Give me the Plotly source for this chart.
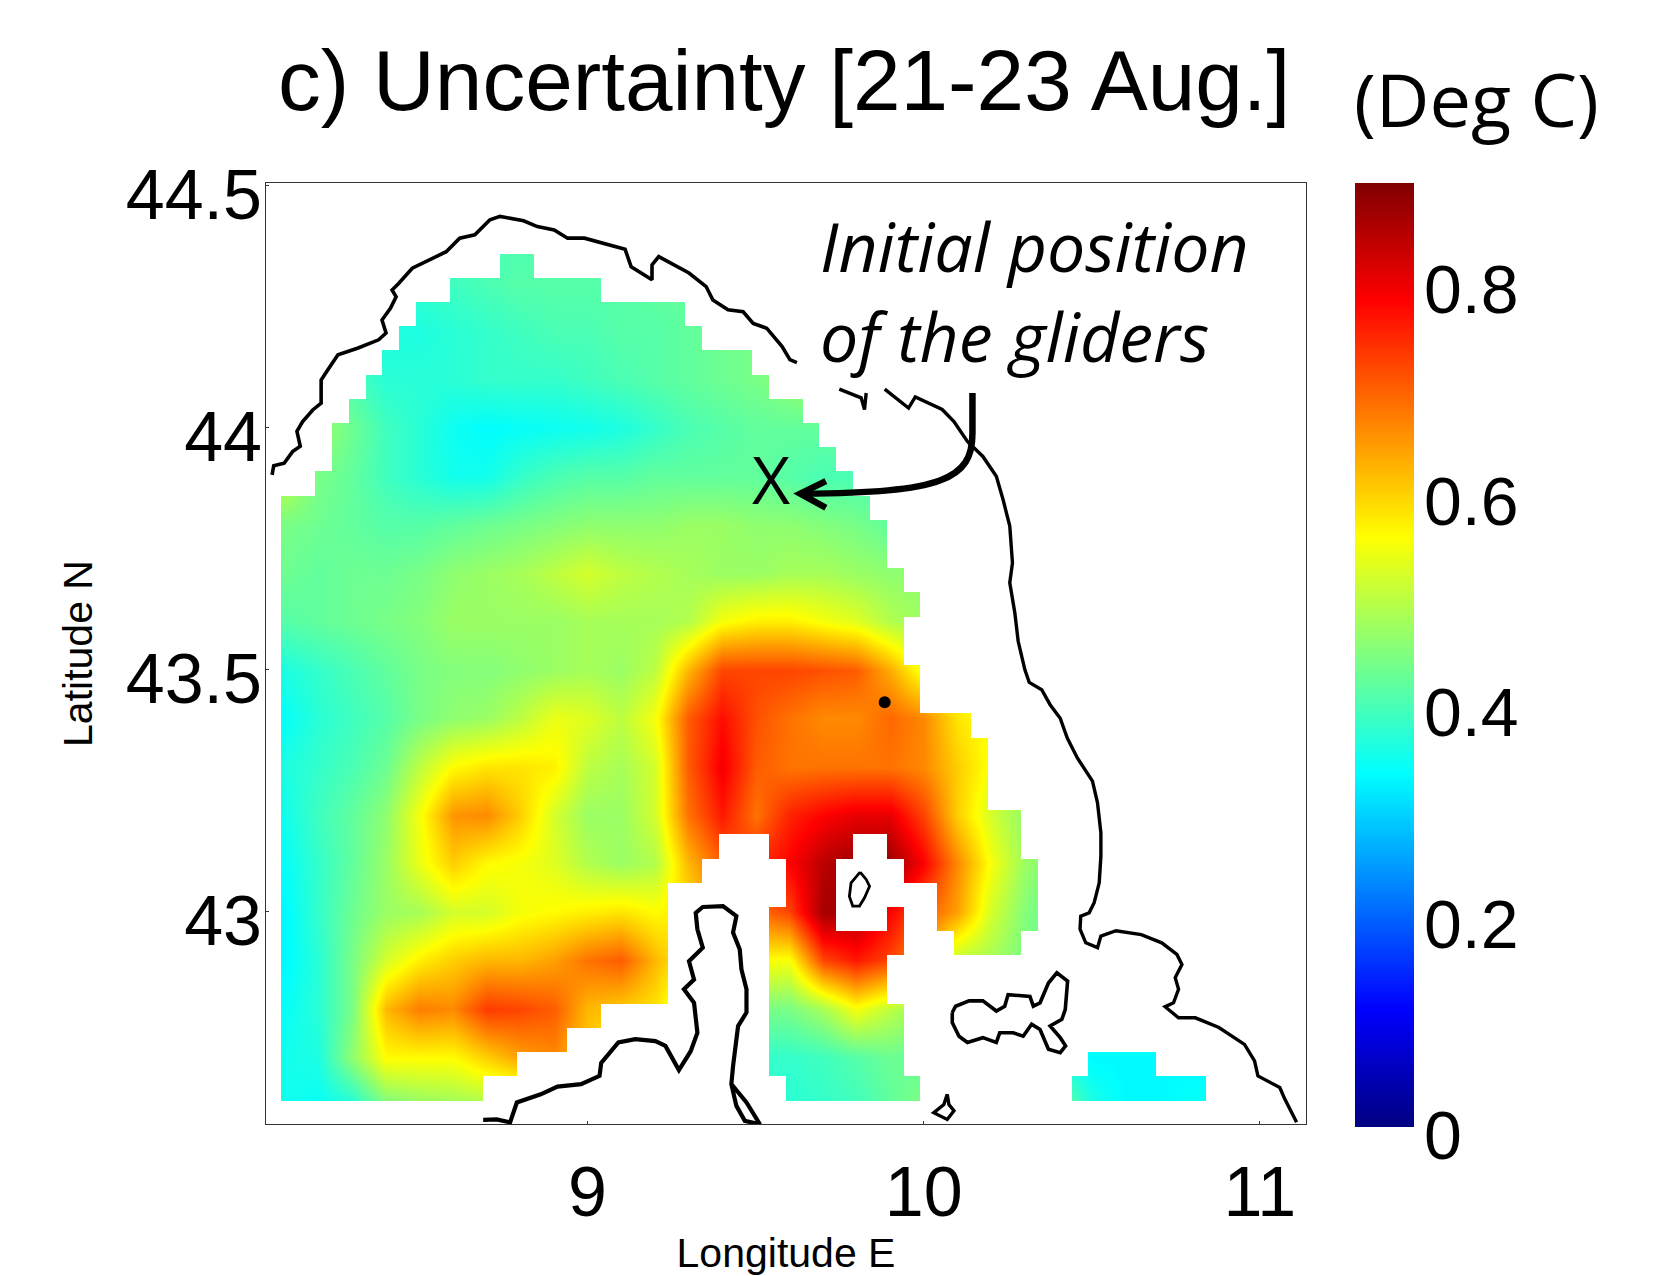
import plotly.graph_objects as go

# ---- uncertainty field (deg C), on 0.1 degree nodes
lons = [8.1, 8.2, 8.3, 8.4, 8.5, 8.6, 8.7, 8.8, 8.9, 9.0, 9.1, 9.2, 9.3, 9.4,
        9.5, 9.6, 9.7, 9.8, 9.9, 10.0, 10.1, 10.2, 10.3, 10.4, 10.5, 10.6, 10.7, 10.8]
lats = [44.4, 44.3, 44.2, 44.1, 44.0, 43.9, 43.8, 43.7, 43.6, 43.5,
        43.4, 43.3, 43.2, 43.1, 43.0, 42.9, 42.8, 42.7, 42.6]
uncert = [
 [.40,.40,.40,.40,.40,.40,.40,.40,.41,.41,.41,.41,.42,.42,.42,.42,.42,.42,.42,.42,.42,.42,.42,.42,.42,.42,.42,.42],
 [.38,.38,.38,.38,.38,.39,.40,.41,.41,.41,.41,.42,.42,.42,.43,.43,.43,.43,.43,.43,.43,.43,.43,.43,.43,.43,.43,.43],
 [.38,.38,.37,.36,.36,.37,.38,.39,.40,.40,.41,.41,.42,.43,.44,.45,.45,.45,.45,.45,.45,.45,.45,.45,.45,.45,.45,.45],
 [.46,.44,.40,.37,.37,.37,.38,.38,.38,.39,.40,.41,.42,.43,.44,.46,.48,.48,.48,.48,.48,.48,.48,.48,.48,.48,.48,.48],
 [.47,.47,.43,.39,.37,.345,.335,.34,.345,.35,.36,.38,.40,.41,.42,.42,.42,.42,.42,.42,.42,.42,.42,.42,.42,.42,.42,.42],
 [.50,.44,.42,.39,.37,.35,.35,.38,.40,.41,.41,.42,.42,.42,.42,.41,.40,.40,.40,.40,.40,.40,.40,.40,.40,.40,.40,.40],
 [.44,.43,.42,.41,.41,.42,.43,.44,.45,.46,.46,.46,.47,.47,.46,.46,.45,.44,.42,.42,.42,.42,.42,.42,.42,.42,.42,.42],
 [.43,.42,.43,.43,.44,.46,.47,.48,.50,.52,.50,.49,.48,.47,.47,.48,.48,.47,.46,.46,.46,.46,.46,.46,.46,.46,.46,.46],
 [.41,.42,.43,.44,.45,.47,.47,.47,.47,.48,.48,.48,.49,.55,.57,.57,.55,.53,.49,.47,.47,.47,.47,.47,.47,.47,.47,.47],
 [.36,.38,.40,.42,.44,.45,.45,.46,.47,.48,.47,.50,.62,.72,.72,.72,.71,.70,.63,.54,.52,.52,.52,.52,.52,.52,.52,.52],
 [.34,.37,.39,.41,.44,.46,.47,.50,.54,.53,.50,.55,.70,.77,.71,.68,.66,.66,.69,.66,.58,.55,.55,.55,.55,.55,.55,.55],
 [.36,.38,.40,.43,.50,.56,.58,.58,.57,.50,.48,.52,.70,.79,.70,.68,.68,.68,.68,.66,.60,.55,.52,.52,.52,.52,.52,.52],
 [.35,.39,.42,.46,.55,.65,.66,.60,.52,.47,.47,.52,.68,.76,.68,.75,.78,.80,.80,.72,.60,.52,.46,.46,.46,.46,.46,.46],
 [.34,.38,.42,.47,.54,.60,.56,.55,.53,.49,.47,.49,.62,.70,.74,.78,.84,.87,.87,.78,.66,.55,.47,.44,.44,.44,.44,.44],
 [.33,.38,.43,.47,.48,.52,.52,.55,.56,.57,.58,.56,.58,.64,.68,.72,.86,.85,.78,.70,.64,.52,.45,.42,.42,.42,.42,.42],
 [.33,.37,.44,.52,.57,.60,.62,.62,.64,.68,.70,.62,.56,.56,.56,.55,.72,.76,.72,.64,.50,.48,.44,.42,.42,.42,.42,.42],
 [.34,.37,.44,.62,.67,.66,.73,.72,.70,.62,.60,.58,.50,.46,.44,.44,.48,.55,.50,.46,.44,.42,.40,.40,.40,.40,.40,.40],
 [.35,.36,.46,.56,.56,.56,.60,.64,.66,.60,.54,.50,.45,.41,.38,.38,.39,.41,.43,.42,.40,.38,.36,.35,.33,.33,.33,.33],
 [.35,.34,.36,.44,.46,.47,.48,.48,.48,.48,.46,.44,.42,.40,.38,.37,.38,.39,.42,.45,.45,.44,.42,.44,.36,.33,.33,.34],
]

# ---- model cells that hold a value: 0.05 degree cells, (first, last) column per row, north to south
cell_lon0 = 8.09
cell_lat0 = 44.36
cell_step = 0.05
n_cols = 55
wet_runs = [
 [(13,14)], [(10,18)], [(8,23)], [(7,24)], [(6,27)], [(5,28)], [(4,30)], [(3,31)], [(3,32)],
 [(2,33)], [(0,34)], [(0,35)], [(0,35)], [(0,36)], [(0,37)], [(0,36)], [(0,36)], [(0,37)],
 [(0,37)], [(0,40)], [(0,41)], [(0,41)], [(0,41)], [(0,43)],
 [(0,25),(29,33),(36,43)],
 [(0,24),(30,32),(37,44)],
 [(0,22),(30,32),(39,44)],
 [(0,22),(29,32),(36,36),(39,44)],
 [(0,22),(29,36),(40,43)],
 [(0,22),(29,35)],
 [(0,22),(29,35)],
 [(0,18),(29,36)],
 [(0,16),(29,36)],
 [(0,13),(29,36),(48,51)],
 [(0,11),(30,37),(47,54)],
]

# ---- coastlines (lon, lat)
ligurian_lon = [8.062,8.067,8.098,8.123,8.146,8.136,8.153,8.183,8.208,8.208,8.228,8.258,8.318,8.379,8.401,8.389,8.414,8.431,8.419,8.439,8.479,8.529,8.580,8.620,8.665,8.710,8.740,8.810,8.851,8.901,8.941,8.991,9.031,9.112,9.130,9.192,9.192,9.212,9.302,9.353,9.373,9.418,9.463,9.493,9.533,9.579,9.602,9.623]
ligurian_lat = [43.903,43.922,43.927,43.951,43.962,43.993,44.013,44.037,44.051,44.099,44.120,44.151,44.165,44.182,44.196,44.223,44.247,44.271,44.285,44.299,44.330,44.347,44.364,44.392,44.399,44.430,44.437,44.428,44.416,44.409,44.392,44.392,44.385,44.369,44.333,44.306,44.337,44.354,44.320,44.292,44.264,44.244,44.240,44.216,44.206,44.168,44.141,44.135]
spit_lon = [9.749,9.814,9.824,9.829]
spit_lat = [44.080,44.062,44.038,44.072]
tuscany_lon = [9.884,9.955,9.975,10.055,10.090,10.130,10.176,10.216,10.236,10.256,10.264,10.256,10.271,10.281,10.301,10.314,10.351,10.376,10.406,10.427,10.457,10.502,10.517,10.527,10.527,10.522,10.507,10.492,10.467,10.465,10.482,10.517,10.527,10.572,10.647,10.708,10.753,10.768,10.748,10.758,10.743,10.718,10.758,10.808,10.878,10.954,10.984,10.994,11.059,11.074,11.109]
tuscany_lat = [44.080,44.041,44.064,44.038,44.013,43.972,43.941,43.900,43.852,43.797,43.721,43.680,43.618,43.559,43.500,43.474,43.459,43.428,43.400,43.359,43.318,43.270,43.225,43.163,43.115,43.060,43.019,42.998,42.991,42.964,42.936,42.926,42.950,42.961,42.953,42.936,42.912,42.891,42.864,42.840,42.812,42.804,42.781,42.781,42.761,42.726,42.692,42.661,42.637,42.613,42.565]
corsica_lon = [8.690,8.730,8.770,8.790,8.861,8.911,8.981,9.036,9.041,9.092,9.142,9.202,9.232,9.272,9.307,9.327,9.317,9.287,9.317,9.302,9.343,9.327,9.322,9.343,9.403,9.443,9.433,9.453,9.458,9.473,9.473,9.448,9.433,9.428,9.473,9.513,9.468,9.443,9.428]
corsica_lat = [42.570,42.571,42.565,42.606,42.623,42.639,42.644,42.661,42.688,42.730,42.737,42.733,42.723,42.673,42.712,42.750,42.812,42.840,42.860,42.898,42.926,42.964,42.998,43.010,43.012,42.991,42.957,42.922,42.881,42.840,42.792,42.764,42.681,42.644,42.606,42.561,42.568,42.599,42.644]
capraia_lon = [9.811,9.829,9.839,9.824,9.809,9.789,9.779,9.784,9.811]
capraia_lat = [43.082,43.067,43.053,43.029,43.012,43.012,43.032,43.060,43.082]
elba_lon = [10.085,10.095,10.135,10.176,10.216,10.241,10.251,10.316,10.326,10.346,10.371,10.396,10.428,10.421,10.411,10.376,10.406,10.422,10.406,10.371,10.346,10.321,10.296,10.266,10.226,10.216,10.176,10.130,10.105,10.085,10.085]
elba_lat = [42.792,42.805,42.816,42.816,42.795,42.805,42.829,42.825,42.805,42.812,42.853,42.874,42.857,42.798,42.778,42.764,42.740,42.723,42.709,42.716,42.757,42.768,42.743,42.750,42.750,42.730,42.740,42.730,42.743,42.771,42.792]
pianosa_lon = [10.070,10.075,10.090,10.070,10.030,10.060,10.070]
pianosa_lat = [42.623,42.602,42.589,42.571,42.585,42.602,42.623]
gorgona_lon = [9.884]
gorgona_lat = [43.433]
glider_lon = [9.546]
glider_lat = [43.877]

lon_ticks = [9, 10, 11]
lat_ticks = [43, 43.5, 44, 44.5]
lat_tick_text = ["43", "43.5", "44", "44.5"]
cbar_ticks = [0, 0.2, 0.4, 0.6, 0.8]
cbar_tick_text = ["0", "0.2", "0.4", "0.6", "0.8"]
value_max = 0.892

X0, X1 = 8.044, 11.137
Y0, Y1 = 42.5616, 44.506

jet = [[0, "rgb(0,0,128)"], [0.125, "rgb(0,0,255)"], [0.375, "rgb(0,255,255)"],
       [0.625, "rgb(255,255,0)"], [0.875, "rgb(255,0,0)"], [1, "rgb(128,0,0)"]]
SANS = "Liberation Sans"
HUMAN = "Open Sans"

fig = go.Figure()

PLOT_L, PLOT_R, PLOT_T, PLOT_B = 265.5, 1306, 183, 1124.5
fig.add_trace(go.Heatmap(
    x=lons, y=lats, z=uncert, zsmooth="best", colorscale=jet, zmin=0, zmax=value_max,
    hoverinfo="skip",
    colorbar=dict(
        x=(1355 - PLOT_L) / (PLOT_R - PLOT_L), xanchor="left", xpad=0,
        y=1, yanchor="top", ypad=0, lenmode="pixels", len=944,
        thickness=59, thicknessmode="pixels", outlinewidth=0,
        tickvals=cbar_ticks, ticks="", showticklabels=False,
    ),
))

# white land mask: every cell without a value, plus the margin round the grid
n_rows = len(wet_runs)
mask_x = [X0] + [cell_lon0 + i * cell_step for i in range(n_cols + 1)] + [X1]
mask_y = [Y1] + [cell_lat0 - i * cell_step for i in range(n_rows + 1)] + [Y0]
mask_z = [[1] * (n_cols + 2)]
for runs in wet_runs:
    row = [1] * (n_cols + 2)
    for a, b in runs:
        for c in range(a, b + 1):
            row[c + 1] = None
    mask_z.append(row)
mask_z.append([1] * (n_cols + 2))
fig.add_trace(go.Heatmap(
    x=mask_x, y=mask_y, z=mask_z, zmin=0, zmax=1, showscale=False, hoverinfo="skip",
    colorscale=[[0, "white"], [1, "white"]],
))

for lo, la, w in [(ligurian_lon, ligurian_lat, 3.6), (spit_lon, spit_lat, 3.4),
                  (tuscany_lon, tuscany_lat, 3.4), (corsica_lon, corsica_lat, 4.2),
                  (capraia_lon, capraia_lat, 2.8), (elba_lon, elba_lat, 3.6),
                  (pianosa_lon, pianosa_lat, 3.4)]:
    fig.add_trace(go.Scatter(x=lo, y=la, mode="lines", line=dict(color="black", width=w),
                             hoverinfo="skip", showlegend=False))
fig.add_trace(go.Scatter(x=gorgona_lon, y=gorgona_lat, mode="markers",
                         marker=dict(color="black", size=12), hoverinfo="skip", showlegend=False))
fig.add_trace(go.Scatter(x=glider_lon, y=glider_lat, mode="text", text=["X"],
                         textposition="middle center",
                         textfont=dict(family=HUMAN, size=66, color="black"),
                         hoverinfo="skip", showlegend=False))

annotations = [
    dict(x=9.685, y=44.376, xref="x", yref="y", text="<i>Initial position</i>", showarrow=False,
         xanchor="left", yanchor="middle", font=dict(family=HUMAN, size=68, color="black")),
    dict(x=9.685, y=44.191, xref="x", yref="y", text="<i>of the gliders</i>", showarrow=False,
         xanchor="left", yanchor="middle", font=dict(family=HUMAN, size=68, color="black")),
    dict(x=(1477 - PLOT_L) / (PLOT_R - PLOT_L), y=1 + (183 - 98) / (PLOT_B - PLOT_T),
         xref="paper", yref="paper", text="(Deg C)", showarrow=False,
         xanchor="center", yanchor="middle", font=dict(family=HUMAN, size=74, color="black")),
]
for v, t in zip(cbar_ticks, cbar_tick_text):
    y_px = 1127 - v / value_max * 944 + 9
    annotations.append(dict(
        x=(1422 - PLOT_L) / (PLOT_R - PLOT_L), y=1 - (y_px - PLOT_T) / (PLOT_B - PLOT_T),
        xref="paper", yref="paper", text=t, showarrow=False, xanchor="left", yanchor="middle",
        font=dict(family=SANS, size=68, color="black")))

shapes = [
    dict(type="path", xref="x", yref="y", layer="above",
         path="M 10.145 44.072 L 10.145 43.989 C 10.145 43.893, 10.055 43.866, 9.640 43.864",
         line=dict(color="black", width=6.5)),
    dict(type="path", xref="x", yref="y", layer="above",
         path="M 9.709 43.890 L 9.633 43.864 L 9.709 43.835",
         line=dict(color="black", width=6.5)),
]

fig.update_layout(
    width=1665, height=1276, autosize=False,
    margin=dict(l=PLOT_L, r=1665 - PLOT_R, t=PLOT_T, b=1276 - PLOT_B, pad=0, autoexpand=False),
    paper_bgcolor="white", plot_bgcolor="white", showlegend=False,
    title=dict(text="c) Uncertainty [21-23 Aug.]", x=(784 - PLOT_L) / (PLOT_R - PLOT_L), xref="paper",
               xanchor="center", y=1 - 80 / 1276, yref="container", yanchor="middle", automargin=False,
               font=dict(family=SANS, size=85.5, color="black")),
    xaxis=dict(range=[X0, X1], tickvals=lon_ticks, ticktext=[str(v) for v in lon_ticks], automargin=False,
               showgrid=False, zeroline=False, showline=True, mirror=True, linecolor="#333", linewidth=1,
               ticks="inside", ticklen=3, tickcolor="#333", ticklabelstandoff=7,
               tickfont=dict(family=SANS, size=70, color="black"),
               title=dict(text="Longitude E", font=dict(family=SANS, size=41, color="black"), standoff=40)),
    yaxis=dict(range=[Y0, Y1], tickvals=lat_ticks, ticktext=lat_tick_text, automargin=False,
               showgrid=False, zeroline=False, showline=True, mirror=True, linecolor="#333", linewidth=1,
               ticks="inside", ticklen=3, tickcolor="#333", ticklabelshift=9, ticklabelstandoff=-11,
               tickfont=dict(family=SANS, size=70, color="black"),
               title=dict(text="Latitude N", font=dict(family=SANS, size=41, color="black"), standoff=20)),
    annotations=annotations, shapes=shapes,
)

fig.write_html("out.html", config={"displayModeBar": False}, post_script="document.body.style.margin='0';")
